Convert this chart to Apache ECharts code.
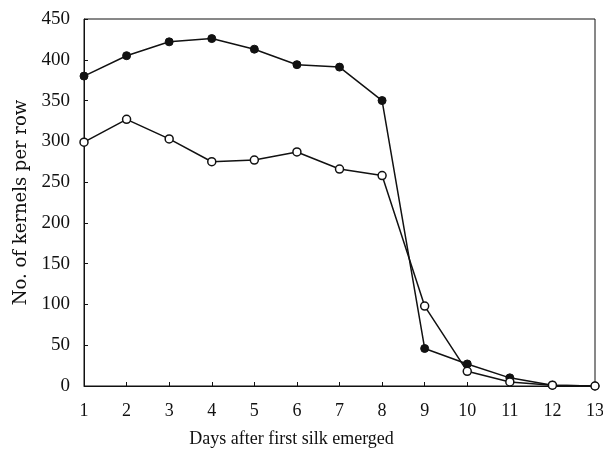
<!DOCTYPE html>
<html>
<head>
<meta charset="utf-8">
<script src="https://cdn.jsdelivr.net/npm/echarts@6/dist/echarts.min.js"></script>
<style>
  html, body { margin: 0; padding: 0; background: #fff; }
  #chart { width: 603px; height: 452px; }
</style>
</head>
<body>
<div id="chart"></div>
<script>
  // days after first silk emerged
  const DAYS = [1, 2, 3, 4, 5, 6, 7, 8, 9, 10, 11, 12, 13];
  // filled circles
  const FILLED = [380, 405, 422, 426, 413, 394, 391, 350, 46, 27, 10, 1, 0];
  // open circles
  const OPEN = [299, 327, 303, 275, 277, 287, 266, 258, 98, 18, 5, 1, 0];

  const FONT = '"Liberation Serif", "DejaVu Serif", serif';
  const WIDE = '"DejaVu Serif", "Liberation Serif", serif';
  const INK = '#111';

  const chart = echarts.init(document.getElementById('chart'));

  function pairs(vals) {
    return DAYS.map(function (d, i) { return [d, vals[i]]; });
  }

  chart.setOption({
    backgroundColor: '#fff',
    animation: false,
    textStyle: { fontFamily: FONT, color: INK },
    grid: {
      left: 84, right: 8, top: 19, bottom: 66,
      outerBoundsMode: 'none',
      containLabel: false,
      show: true, borderColor: INK, borderWidth: 1
    },
    xAxis: {
      type: 'value',
      min: 1,
      max: 13,
      interval: 1,
      name: 'Days after first silk emerged',
      nameLocation: 'middle',
      nameGap: 44,
      nameTextStyle: { fontFamily: FONT, fontSize: 18, color: INK, padding: [0, 96, 0, 0] },
      axisLine: { lineStyle: { color: INK, width: 1 } },
      axisTick: { inside: true, length: 4, lineStyle: { color: INK } },
      axisLabel: { fontFamily: FONT, fontSize: 18, color: INK, margin: 16 },
      splitLine: { show: false }
    },
    yAxis: {
      type: 'value',
      min: 0,
      max: 450,
      interval: 50,
      name: 'No. of kernels per row',
      nameLocation: 'middle',
      nameGap: 51,
      nameTextStyle: { fontFamily: WIDE, fontSize: 18, color: INK },
      axisLine: { show: true, lineStyle: { color: INK, width: 1 } },
      axisTick: { show: true, inside: true, length: 4, lineStyle: { color: INK } },
      axisLabel: { fontFamily: FONT, fontSize: 19, color: INK, margin: 14 },
      splitLine: { show: false }
    },
    series: [
      {
        type: 'line',
        data: pairs(FILLED),
        symbol: 'circle',
        symbolSize: 8,
        lineStyle: { color: INK, width: 1.5 },
        itemStyle: { color: INK, borderColor: INK, borderWidth: 1 },
        z: 3
      },
      {
        type: 'line',
        data: pairs(OPEN),
        symbol: 'circle',
        symbolSize: 8,
        lineStyle: { color: INK, width: 1.5 },
        itemStyle: { color: '#fff', borderColor: INK, borderWidth: 1.5 },
        z: 4
      }
    ]
  });
</script>
</body>
</html>
